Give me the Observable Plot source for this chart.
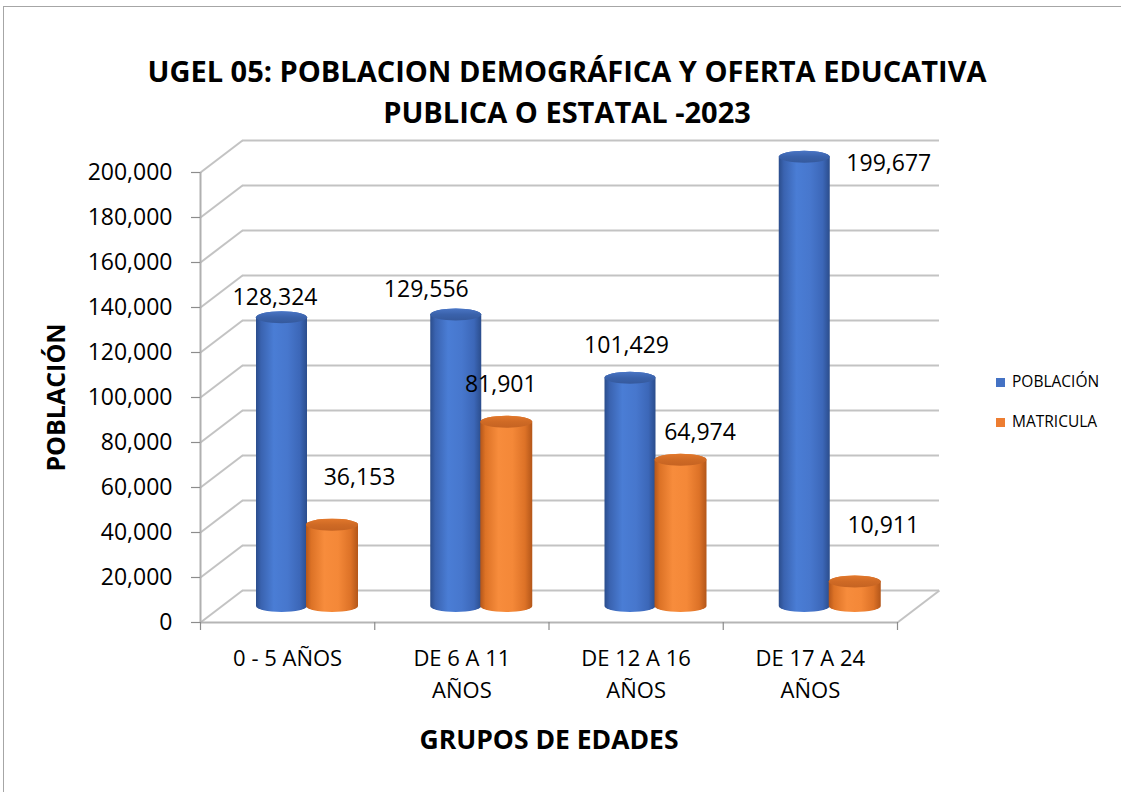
<!DOCTYPE html>
<html>
<head>
<meta charset="utf-8">
<script src="https://cdn.jsdelivr.net/npm/d3@7"></script>
<script src="https://cdn.jsdelivr.net/npm/@observablehq/plot@0.6"></script>
<style>
  html, body { margin: 0; padding: 0; background: #fff; overflow: hidden; }
  #wrap { position: relative; width: 1121px; height: 792px; font-family: "Open Sans", sans-serif; color: #000; }
  #chart { position: absolute; left: 0; top: 0; }
  #border { position: absolute; left: 3px; top: 6px; width: 1200px; height: 900px; border: 1px solid #a6a6a6; pointer-events: none; }
  #title { position: absolute; left: 0; top: 50px; width: 1134px; text-align: center; font-weight: bold; font-size: 29px; line-height: 41px; }
  .leg { position: absolute; left: 996px; font-size: 15.5px; line-height: 20px; white-space: nowrap; }
  .leg span.sw { display: inline-block; width: 9px; height: 9px; margin-right: 7px; vertical-align: 0px; }
</style>
</head>
<body>
<div id="wrap">
  <div id="chart"></div>
  <div id="title">UGEL 05: POBLACION DEMOGRÁFICA Y OFERTA EDUCATIVA<br>PUBLICA O ESTATAL -2023</div>
  <div class="leg" style="top:371px"><span class="sw" style="background:#4472C4"></span>POBLACIÓN</div>
  <div class="leg" style="top:411px"><span class="sw" style="background:#ED7D31"></span>MATRICULA</div>
  <div id="border"></div>
</div>
<script>
// ---- data ----
const categories = ["0 - 5 AÑOS", "DE 6 A 11\nAÑOS", "DE 12 A 16\nAÑOS", "DE 17 A 24\nAÑOS"];
const poblacion = [128324, 129556, 101429, 199677];
const matricula = [36153, 81901, 64974, 10911];
const seriesNames = ["POBLACIÓN", "MATRICULA"];
const yTicks = [0, 20000, 40000, 60000, 80000, 100000, 120000, 140000, 160000, 180000, 200000];
const yTitle = "POBLACIÓN";
const xTitle = "GRUPOS DE EDADES";

// ---- layout (pixels) ----
const W = 1121, H = 792, mL = 200, mR = 224, mT = 172, mB = 170;
const BW = (W - mL - mR) / categories.length;   // px per category
const PY = (H - mT - mB) / 200000;              // px per unit
const depthX = 42 / BW, depthY = 32 / PY;       // 3D back-wall offset in data units
const mid = -16;                                // bars sit at mid depth
const slot = {"POBLACIÓN": [56 / BW, 107 / BW], "MATRICULA": [106 / BW, 158 / BW]};
// label nudges (px) relative to the top centre of each cylinder
const nudge = {
  "POBLACIÓN": [[-7, -20], [-30, -25], [-4, -33], [84, 6]],
  "MATRICULA": [[27, -48], [-6, -38], [19, -28], [28, -56]]
};

const rows = [];
categories.forEach((c, i) => {
  rows.push({cat: c, i, serie: seriesNames[0], value: poblacion[i], n: nudge[seriesNames[0]][i]});
  rows.push({cat: c, i, serie: seriesNames[1], value: matricula[i], n: nudge[seriesNames[1]][i]});
});
const fmt = d3.format(",");
const grid = "#c3c3c3";

// placeholder colours, swapped for gradients after rendering
const ph = {"POBLACIÓN": ["#010101", "#020202"], "MATRICULA": ["#030303", "#040404"]};

const cyl = (serie) => [
  Plot.rect(rows.filter(d => d.serie === serie), {
    x1: d => d.i + slot[serie][0], x2: d => d.i + slot[serie][1],
    y1: 0, y2: d => d.value, dy: mid, insetTop: -6, insetBottom: -6,
    rx: 26, ry: 6, fill: ph[serie][0]
  }),
  Plot.rect(rows.filter(d => d.serie === serie), {
    x1: d => d.i + slot[serie][0], x2: d => d.i + slot[serie][1],
    y1: d => d.value, y2: d => d.value, dy: mid, insetTop: -6, insetBottom: -6,
    rx: 26, ry: 6, fill: ph[serie][1]
  })
];

const svg = Plot.plot({
  width: W, height: H,
  marginLeft: mL, marginRight: mR, marginTop: mT, marginBottom: mB,
  x: {type: "linear", domain: [0, categories.length], axis: null},
  y: {type: "linear", domain: [0, 200000], axis: null},
  style: {background: "transparent", fontFamily: "'Open Sans', sans-serif", color: "#000", overflow: "visible"},
  marks: [
    Plot.ruleY(yTicks, {y: d => d, dx: 42, dy: -32, stroke: grid, strokeWidth: 2}),
    Plot.link(yTicks, {x1: 0, y1: d => d, x2: depthX, y2: d => d + depthY, stroke: grid, strokeWidth: 2}),
    Plot.link([0], {x1: categories.length, y1: 0, x2: categories.length + depthX, y2: depthY, stroke: grid, strokeWidth: 2}),
    Plot.ruleY([0], {y: d => d, stroke: "#b5b5b5", strokeWidth: 2}),
    Plot.ruleX([0], {x: d => d, y1: 0, y2: 200000, stroke: "#b0b0b0", strokeWidth: 2}),
    Plot.ruleY(yTicks, {y: d => d, x1: -9 / BW, x2: 0, stroke: "#8c8c8c", strokeWidth: 1.2}),
    Plot.ruleX(d3.range(categories.length + 1), {x: d => d, y1: 0, y2: -8 / PY, stroke: "#8c8c8c", strokeWidth: 1.2}),
    ...cyl(seriesNames[0]),
    ...cyl(seriesNames[1]),
    Plot.text(yTicks, {x: 0, y: d => d, text: d => fmt(d), textAnchor: "end", dx: -28, fontSize: 23, fill: "#000"}),
    Plot.text(categories, {x: (d, i) => i + 0.5, y: 0, text: d => d, lineAnchor: "top", dy: 21, fontSize: 22, lineHeight: 1.45, fill: "#000"}),
    Plot.text([yTitle], {x: 0, y: 100000, text: d => d, dx: -144, rotate: -90, fontSize: 25, fontWeight: "bold", fill: "#000"}),
    Plot.text([xTitle], {x: categories.length / 2, y: 0, text: d => d, dy: 118, fontSize: 26.5, fontWeight: "bold", fill: "#000"}),
    ...rows.map(r => Plot.text([r], {
      x: d => d.i + (slot[d.serie][0] + slot[d.serie][1]) / 2, y: d => d.value,
      text: d => fmt(d.value), dx: r.n[0], dy: mid + r.n[1], fontSize: 23, fill: "#000"
    }))
  ]
});

// gradients for the cylinder look
const defs = d3.select(svg).insert("defs", ":first-child");
function grad(id, stops, vertical) {
  const g = defs.append("linearGradient").attr("id", id)
    .attr("x1", 0).attr("y1", 0).attr("x2", vertical ? 0 : 1).attr("y2", vertical ? 1 : 0);
  stops.forEach(([o, c]) => g.append("stop").attr("offset", o).attr("stop-color", c));
}
grad("gBlue", [[0, "#2b4d8c"], [0.1, "#3a63b0"], [0.35, "#4a7dd5"], [0.62, "#4777cd"], [0.86, "#3c67b8"], [1, "#2b4d8c"]]);
grad("gBlueCap", [[0, "#4a75c4"], [0.5, "#3a62ab"], [1, "#35599c"]], true);
grad("gOrange", [[0, "#b4561a"], [0.1, "#dc7226"], [0.35, "#f78c3c"], [0.62, "#f48838"], [0.86, "#dd7227"], [1, "#b35619"]]);
grad("gOrangeCap", [[0, "#e2782c"], [0.5, "#cf6a25"], [1, "#c56322"]], true);
const swap = {"#010101": "url(#gBlue)", "#020202": "url(#gBlueCap)", "#030303": "url(#gOrange)", "#040404": "url(#gOrangeCap)"};
svg.querySelectorAll("[fill]").forEach(el => {
  const f = (el.getAttribute("fill") || "").toLowerCase();
  if (swap[f]) el.setAttribute("fill", swap[f]);
});

document.getElementById("chart").appendChild(svg);
</script>
</body>
</html>
